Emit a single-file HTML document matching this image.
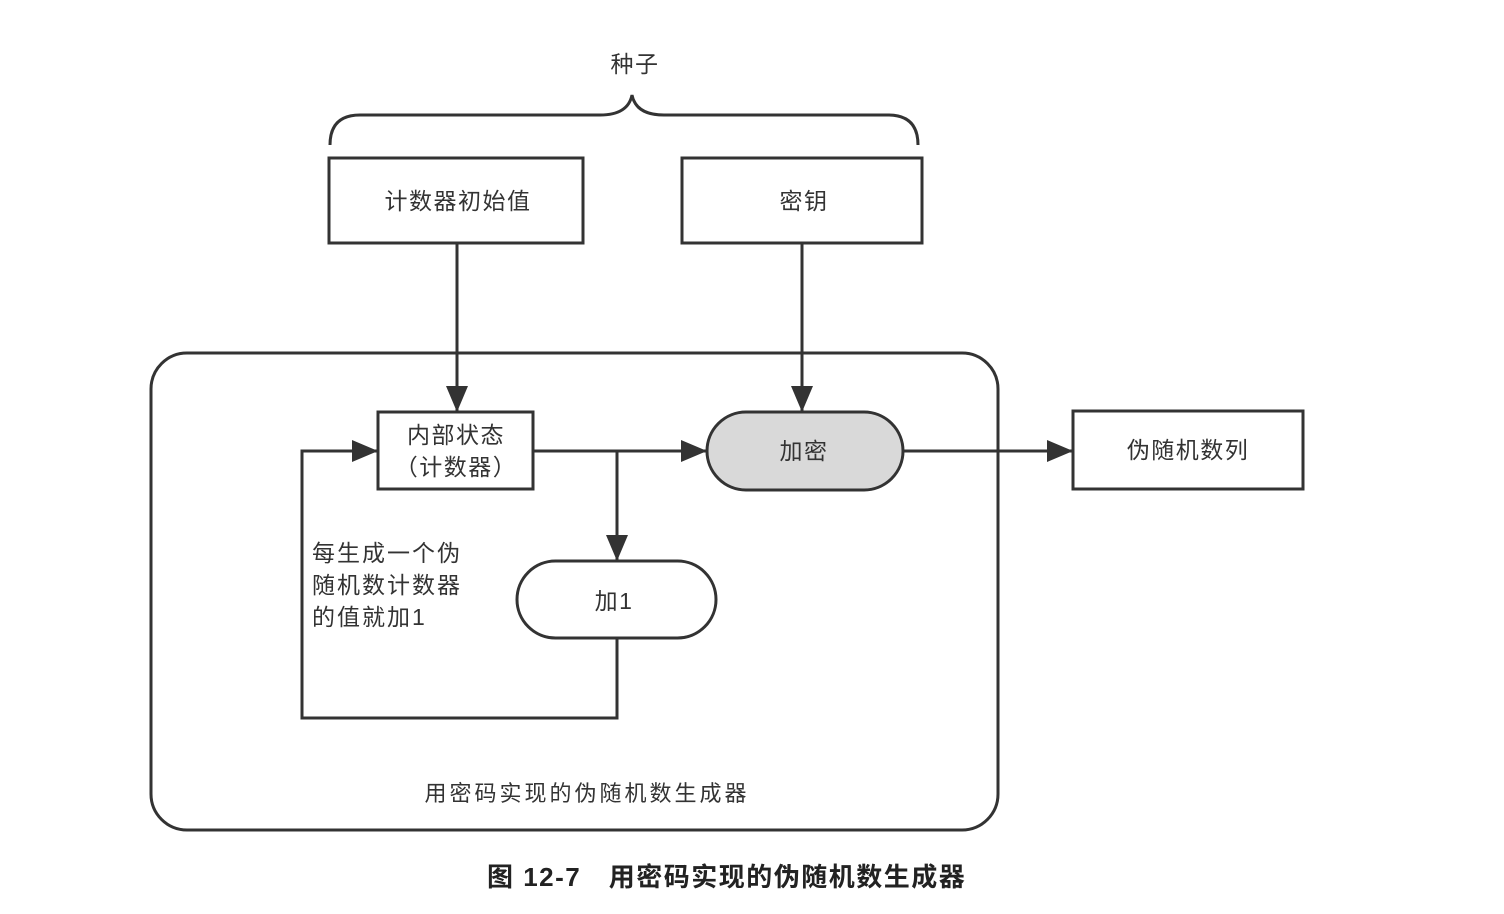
<!DOCTYPE html>
<html><head><meta charset="utf-8"><style>
body{margin:0;background:#fff;}
svg{display:block;font-family:"Liberation Sans","Noto Sans CJK SC",sans-serif;}
</style></head><body>
<svg width="1504" height="914" viewBox="0 0 1504 914" xmlns="http://www.w3.org/2000/svg">
<defs>
<marker id="b" markerWidth="26" markerHeight="22" refX="26" refY="11" orient="auto" markerUnits="userSpaceOnUse"><path d="M0,0 L26,11 L0,22 z" fill="#333"/></marker></defs>
<g fill="none" stroke="#333" stroke-width="3">
<path d="M330,145 Q330,115 360,115 L600,115 Q628,115 632,95 Q636,115 664,115 L888,115 Q918,115 918,145"/>
<rect x="329" y="158" width="254" height="85"/>
<rect x="682" y="158" width="240" height="85"/>
<rect x="151" y="353" width="847" height="477" rx="36"/>
<rect x="378" y="412" width="155" height="77"/>
<rect x="707" y="412" width="196" height="78" rx="39" fill="#d9d9d9"/>
<rect x="1073" y="411" width="230" height="78"/>
<rect x="517" y="561" width="199" height="77" rx="38.5" fill="#fff"/>
<path d="M457,243 V412" marker-end="url(#b)"/>
<path d="M802,243 V412" marker-end="url(#b)"/>
<path d="M533,451 H707" marker-end="url(#b)"/>
<path d="M617,451 V561" marker-end="url(#b)"/>
<path d="M617,638 V718 H302 V451 H378" marker-end="url(#b)"/>
<path d="M903,451 H1073" marker-end="url(#b)"/>
</g>
<g fill="#333" font-size="23" text-anchor="middle" letter-spacing="1.5">
<text x="635" y="72">种子</text>
<text x="458" y="209">计数器初始值</text>
<text x="804" y="209">密钥</text>
<text x="456" y="443">内部状态</text>
<text x="456" y="475">（计数器）</text>
<text x="804" y="459">加密</text>
<text x="1188" y="458">伪随机数列</text>
<text x="614" y="609">加1</text>
<text x="587" y="801" font-size="22" letter-spacing="3">用密码实现的伪随机数生成器</text>
</g>
<g fill="#333" font-size="23" letter-spacing="2">
<text x="312" y="561">每生成一个伪</text>
<text x="312" y="593">随机数计数器</text>
<text x="312" y="625">的值就加1</text>
</g>
<text x="487" y="886" font-size="26" font-weight="bold" fill="#222" letter-spacing="1.5">图 12-7　用密码实现的伪随机数生成器</text>
</svg>
</body></html>
